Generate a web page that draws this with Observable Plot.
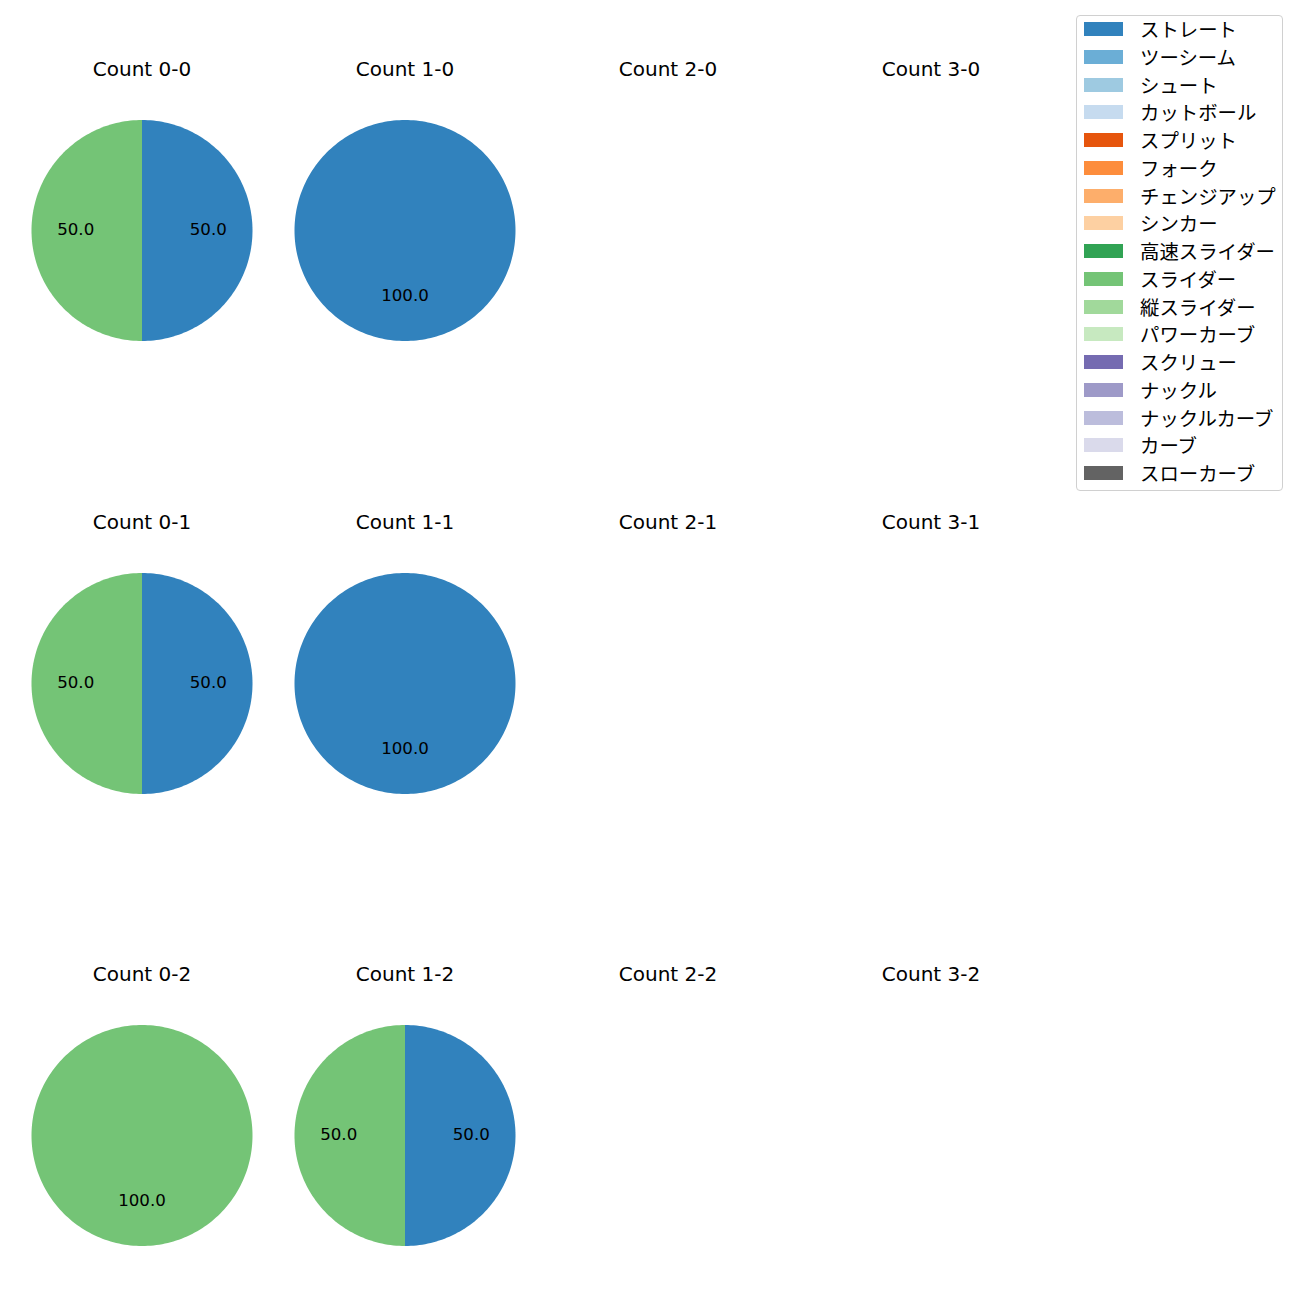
<!DOCTYPE html>
<html><head><meta charset="utf-8">
<script src="https://cdn.jsdelivr.net/npm/d3@7"></script>
<script src="https://cdn.jsdelivr.net/npm/@observablehq/plot@0.6"></script>
<style>
body{margin:0;background:#fff;font-family:"DejaVu Sans","Noto Sans CJK JP",sans-serif;}
#root{position:relative;width:1300px;height:1300px;overflow:hidden;}
.cell{position:absolute;}
#legend{position:absolute;left:1076px;top:15px;width:205px;height:474px;border:1px solid #d0d0d0;border-radius:4px;background:#fff;}
.sw{position:absolute;width:39px;height:14px;}
.lt{position:absolute;font-size:19.4px;line-height:24px;color:#000;white-space:nowrap;font-family:"DejaVu Sans","Noto Sans CJK JP",sans-serif;}
</style>
</head><body><div id="root"><div id="legend"></div></div>
<script>
// ---- data ----
const pitchTypes = ["ストレート","ツーシーム","シュート","カットボール","スプリット","フォーク","チェンジアップ","シンカー","高速スライダー","スライダー","縦スライダー","パワーカーブ","スクリュー","ナックル","ナックルカーブ","カーブ","スローカーブ"];
const pitchColors = ["#3182bd","#6baed6","#9ecae1","#c6dbef","#e6550d","#fd8d3c","#fdae6b","#fdd0a2","#31a354","#74c476","#a1d99b","#c7e9c0","#756bb1","#9e9ac8","#bcbddc","#dadaeb","#636363"];
const countTitles = ["Count 0-0","Count 1-0","Count 2-0","Count 3-0",
                     "Count 0-1","Count 1-1","Count 2-1","Count 3-1",
                     "Count 0-2","Count 1-2","Count 2-2","Count 3-2"];
const straightCounts = [1,1,0,0, 1,1,0,0, 0,1,0,0];
const sliderCounts   = [1,0,0,0, 1,0,0,0, 1,1,0,0];

const root = document.getElementById("root");
const color = {domain: pitchTypes, range: pitchColors};
const FONT = '"DejaVu Sans","Noto Sans CJK JP",sans-serif';

countTitles.forEach((title, i) => {
  const col = i % 4, row = Math.floor(i / 4);
  const cx = 141 + 263 * col, cy = 230 + 452.5 * row;
  const values = [{type:"ストレート", n: straightCounts[i]}, {type:"スライダー", n: sliderCounts[i]}].filter(d => d.n > 0);
  const total = d3.sum(values, d => d.n);
  const poly = [], labels = [];
  let cum = 0;
  values.forEach(d => {
    const frac = d.n / total;
    const a0 = Math.PI / 2 - cum * 2 * Math.PI;
    const a1 = a0 - frac * 2 * Math.PI;
    const steps = Math.max(4, Math.ceil(frac * 240));
    poly.push({type: d.type, x: 0, y: 0});
    for (let k = 0; k <= steps; k++) {
      const a = a0 + (a1 - a0) * k / steps;
      poly.push({type: d.type, x: Math.cos(a), y: Math.sin(a)});
    }
    const am = (a0 + a1) / 2;
    labels.push({x: 0.6 * Math.cos(am), y: 0.6 * Math.sin(am), text: (frac * 100).toFixed(1)});
    cum += frac;
  });
  const W = 263, H = 360, R = 110.5;
  const chart = Plot.plot({
    width: W, height: H, margin: 0,
    style: {fontFamily: FONT, background: "transparent", overflow: "visible"},
    x: {domain: [-W / 2 / R, W / 2 / R], axis: null},
    y: {domain: [-H / 2 / R, H / 2 / R], axis: null},
    color,
    marks: [
      Plot.line(poly, {x: "x", y: "y", z: "type", fill: "type", stroke: "none", curve: "linear"}),
      Plot.text(labels, {x: "x", y: "y", text: "text", fontSize: 16.67, dy: -1, fill: "#000"}),
      Plot.text([title], {text: d => d, frameAnchor: "top", lineAnchor: "middle", dy: 19, fontSize: 20, fill: "#000"})
    ]
  });
  const div = document.createElement("div");
  div.className = "cell";
  div.style.left = (cx - W / 2) + "px";
  div.style.top = (cy - H / 2) + "px";
  div.appendChild(chart);
  root.appendChild(div);
});

// legend
const leg = document.getElementById("legend");
const colorScale = Plot.scale({color: {type: "ordinal", domain: pitchTypes, range: pitchColors}});
pitchTypes.forEach((t, i) => {
  const yc = 29 + 27.75 * i - 16; // relative to legend box inner top
  const sw = document.createElement("div");
  sw.className = "sw";
  sw.style.left = "7px";
  sw.style.top = (yc - 7) + "px";
  sw.style.background = colorScale.apply(t);
  leg.appendChild(sw);
  const lt = document.createElement("div");
  lt.className = "lt";
  lt.style.left = "63px";
  lt.style.top = (yc - 10) + "px";
  lt.textContent = t;
  leg.appendChild(lt);
});
</script>
</body></html>
